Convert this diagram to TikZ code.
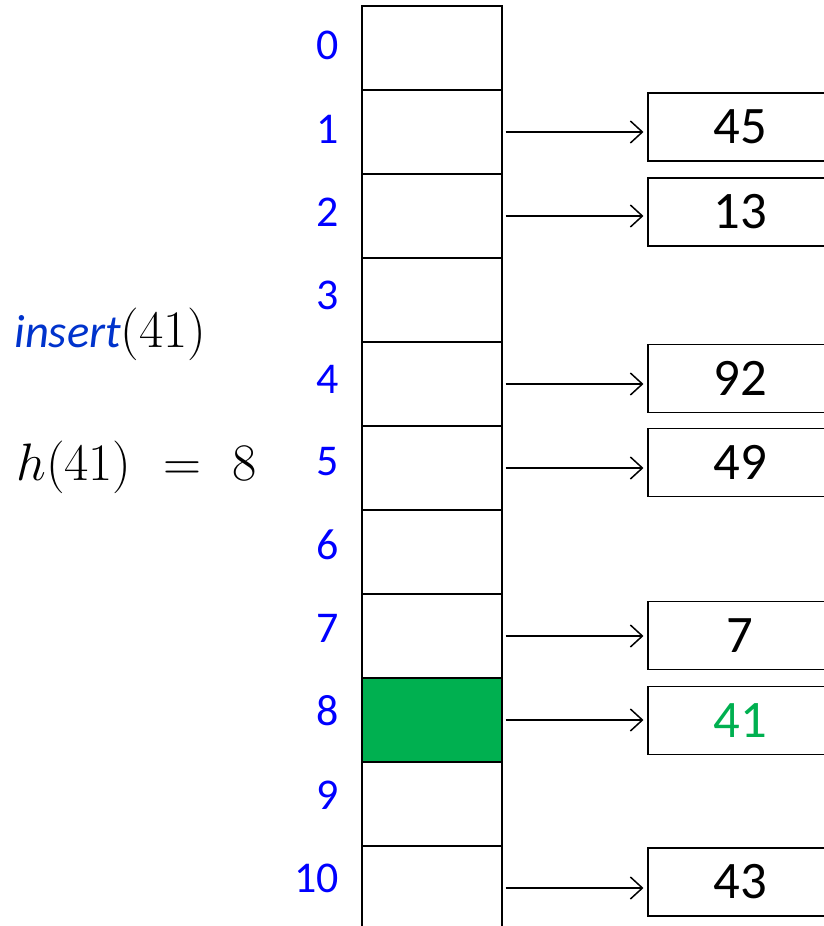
\RequirePackage{fix-cm}
\documentclass[tikz,border=0pt]{standalone}
\usepackage{fontspec}
\setmainfont{Carlito}
\usetikzlibrary{arrows.meta,positioning}
\definecolor{idxblue}{HTML}{0000FF}
\definecolor{opblue}{HTML}{0033CC}
\definecolor{slotgreen}{HTML}{00B050}

\begin{document}
\begin{tikzpicture}[
  x=0.02cm, y=-0.02cm,
  cell/.style={rectangle, draw, line width=1.2pt, fill=white,
               minimum width=2.8cm, minimum height=1.68cm, inner sep=0pt},
  idx/.style={anchor=east, inner sep=0pt, text=idxblue, font=\fontsize{25}{30}\selectfont},
  keybox/.style={rectangle, draw, line width=1.1pt, anchor=west,
                 minimum width=4cm, minimum height=1.36cm, inner sep=0pt,
                 text width=3.6cm, align=left, font=\fontsize{30}{36}\selectfont},
  mathlab/.style={anchor=base west, inner sep=0pt, font=\fontsize{30}{36}\selectfont},
  ptr/.style={-{Straight Barb[length=0.24cm, width=0.44cm]}, line width=0.85pt,
              shorten <=1.5pt, shorten >=2pt}
]
\clip (0,0) rectangle (824,926);

% Left: operation
\node[mathlab] (op)   at (14,347) {\textcolor{opblue}{\fontsize{26.5}{32}\selectfont\textit{insert}}$(41)$};
\node[mathlab] (hash) at (16,480) {$h(41)\hspace{0.32em}=\hspace{0.32em}8$};

% Table slots
\node[cell] (c0)  at (432, 48)  {};
\node[cell] (c1)  at (432,132)  {};
\node[cell] (c2)  at (432,216)  {};
\node[cell] (c3)  at (432,300)  {};
\node[cell] (c4)  at (432,384)  {};
\node[cell] (c5)  at (432,468)  {};
\node[cell] (c6)  at (432,552)  {};
\node[cell] (c7)  at (432,636)  {};
\node[cell, fill=slotgreen] (c8) at (432,720) {};
\node[cell] (c9)  at (432,804)  {};
\node[cell] (c10) at (432,888)  {};

% Slot indices
\node[idx] (i0)  at (339, 45)  {0};
\node[idx] (i1)  at (339,129)  {1};
\node[idx] (i2)  at (339,212)  {2};
\node[idx] (i3)  at (339,295)  {3};
\node[idx] (i4)  at (339,379)  {4};
\node[idx] (i5)  at (339,462)  {5};
\node[idx] (i6)  at (339,545)  {6};
\node[idx] (i7)  at (339,628)  {7};
\node[idx] (i8)  at (339,711)  {8};
\node[idx] (i9)  at (339,795)  {9};
\node[idx] (i10) at (339,878)  {10};

% Keys stored in the slots
\node[keybox] (k45) at (647,127)   {\hspace*{1.12cm}45};
\node[keybox] (k13) at (647,212)   {\hspace*{1.12cm}13};
\node[keybox] (k92) at (647,378.5) {\hspace*{1.12cm}92};
\node[keybox] (k49) at (647,462.5) {\hspace*{1.12cm}49};
\node[keybox] (k7)  at (647,635.5) {\hspace*{1.37cm}7};
\node[keybox, text=slotgreen] (k41) at (647,720.5) {\hspace*{1.12cm}41};
\node[keybox] (k43) at (647,882)   {\hspace*{1.12cm}43};

% Pointers
\draw[ptr] (c1.east)  -- (c1.east -| k45.west);
\draw[ptr] (c2.east)  -- (c2.east -| k13.west);
\draw[ptr] (c4.east)  -- (c4.east -| k92.west);
\draw[ptr] (c5.east)  -- (c5.east -| k49.west);
\draw[ptr] (c7.east)  -- (c7.east -| k7.west);
\draw[ptr] (c8.east)  -- (c8.east -| k41.west);
\draw[ptr] (c10.east) -- (c10.east -| k43.west);

\end{tikzpicture}
\end{document}
